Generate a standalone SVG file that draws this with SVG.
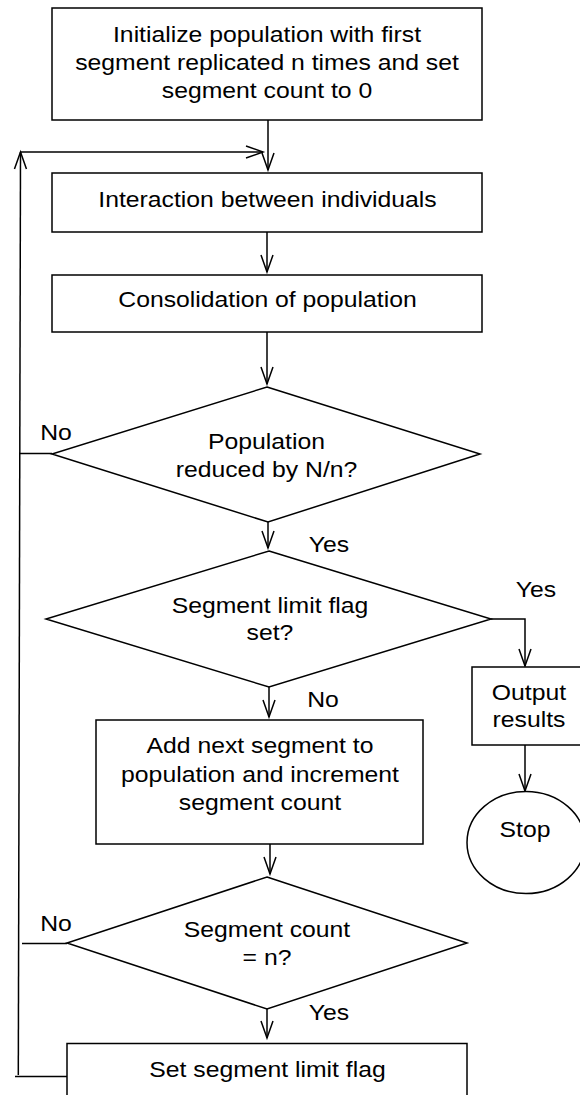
<svg xmlns="http://www.w3.org/2000/svg" width="580" height="1095" viewBox="0 0 580 1095">
<defs>
<style>
.shape{fill:#fff;stroke:#000;stroke-width:1.5}
.line{fill:none;stroke:#000;stroke-width:1.5}
.t{font-family:"Liberation Sans",Arial,Helvetica,sans-serif;font-size:22.5px;fill:#000;text-anchor:middle}
</style>
<marker id="arr" markerUnits="userSpaceOnUse" viewBox="0 0 18 13" refX="17" refY="6.5" markerWidth="18" markerHeight="13" orient="auto" overflow="visible">
<path d="M0,0.5 L17,6.5 L0,12.5" fill="none" stroke="#000" stroke-width="1.5"/>
</marker>
</defs>
<rect width="580" height="1095" fill="#fff"/>
<g id="connectors">
<line class="line" x1="268" y1="120" x2="268" y2="170" marker-end="url(#arr)"/>
<line class="line" x1="21" y1="152" x2="263" y2="152" marker-end="url(#arr)"/>
<line class="line" x1="267" y1="232" x2="267" y2="272" marker-end="url(#arr)"/>
<line class="line" x1="267" y1="332" x2="267" y2="384" marker-end="url(#arr)"/>
<line class="line" x1="268" y1="522" x2="268" y2="548" marker-end="url(#arr)"/>
<line class="line" x1="269" y1="687" x2="269" y2="717" marker-end="url(#arr)"/>
<line class="line" x1="270" y1="844" x2="270" y2="874" marker-end="url(#arr)"/>
<line class="line" x1="267" y1="1009" x2="267" y2="1038" marker-end="url(#arr)"/>
<polyline class="line" points="491,619 525,619 525,666" marker-end="url(#arr)"/>
<line class="line" x1="525" y1="745" x2="525" y2="791" marker-end="url(#arr)"/>
<line class="line" x1="52" y1="453.5" x2="19.5" y2="453.5"/>
<line class="line" x1="67" y1="943.5" x2="22" y2="943.5"/>
<line class="line" x1="67" y1="1076.5" x2="15" y2="1076.5"/>
<line class="line" x1="18.3" y1="1075" x2="20.5" y2="152" marker-end="url(#arr)"/>
<text class="t" transform="matrix(1.1 0 0 1 56 440)">No</text>
<text class="t" transform="matrix(1.1 0 0 1 329 552)">Yes</text>
<text class="t" transform="matrix(1.1 0 0 1 536 597)">Yes</text>
<text class="t" transform="matrix(1.1 0 0 1 323 706.5)">No</text>
<text class="t" transform="matrix(1.1 0 0 1 56 930.5)">No</text>
<text class="t" transform="matrix(1.1 0 0 1 329 1020)">Yes</text>
</g>
<g id="init">
<rect class="shape" x="52" y="8" width="430" height="112"/>
<text class="t" transform="matrix(1.1 0 0 1 267 41.5)"><tspan x="0" y="0">Initialize population with first</tspan><tspan x="0" y="28.5">segment replicated n times and set</tspan><tspan x="0" y="57">segment count to 0</tspan></text>
</g>
<g id="interaction">
<rect class="shape" x="52" y="173" width="430" height="59"/>
<text class="t" transform="matrix(1.1 0 0 1 267.5 206.7)">Interaction between individuals</text>
</g>
<g id="consolidation">
<rect class="shape" x="52" y="275" width="430" height="57"/>
<text class="t" transform="matrix(1.1 0 0 1 267.5 307.3)">Consolidation of population</text>
</g>
<g id="reduced">
<polygon class="shape" points="267,387 480,454 268,522 52,454"/>
<text class="t" transform="matrix(1.1 0 0 1 266.5 449.3)"><tspan x="0" y="0">Population</tspan><tspan x="0" y="28">reduced by N/n?</tspan></text>
</g>
<g id="limitflag">
<polygon class="shape" points="269,551 491,619 269,687 46,619"/>
<text class="t" transform="matrix(1.1 0 0 1 270 612.7)"><tspan x="0" y="0">Segment limit flag</tspan><tspan x="0" y="27.5">set?</tspan></text>
</g>
<g id="addsegment">
<rect class="shape" x="96" y="720" width="327" height="124"/>
<text class="t" transform="matrix(1.1 0 0 1 260 753.3)"><tspan x="0" y="0">Add next segment to</tspan><tspan x="0" y="28.4">population and increment</tspan><tspan x="0" y="56.8">segment count</tspan></text>
</g>
<g id="countn">
<polygon class="shape" points="267,877 467,943 267,1009 67,943"/>
<text class="t" transform="matrix(1.1 0 0 1 267 937.3)"><tspan x="0" y="0">Segment count</tspan><tspan x="0" y="27.7">= n?</tspan></text>
</g>
<g id="setflag">
<rect class="shape" x="67" y="1043.5" width="400" height="70"/>
<text class="t" transform="matrix(1.1 0 0 1 267.5 1077)">Set segment limit flag</text>
</g>
<g id="output">
<rect class="shape" x="472" y="667" width="116" height="78"/>
<text class="t" transform="matrix(1.1 0 0 1 529 700)"><tspan x="0" y="0">Output</tspan><tspan x="0" y="27">results</tspan></text>
</g>
<g id="stop">
<ellipse class="shape" cx="526" cy="842.5" rx="59" ry="51"/>
<text class="t" transform="matrix(1.1 0 0 1 525 837)">Stop</text>
</g>
</svg>
